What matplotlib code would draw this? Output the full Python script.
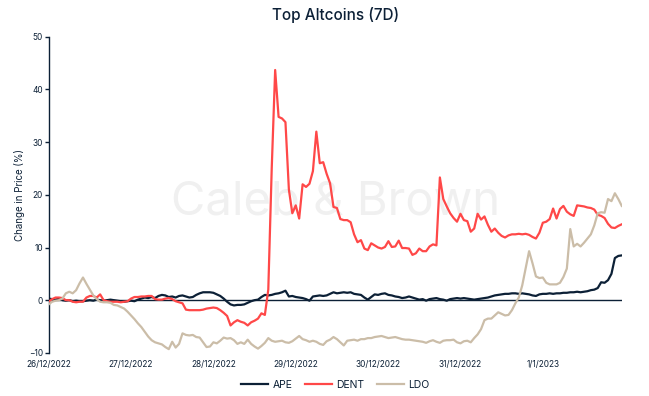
import matplotlib
matplotlib.use("Agg")
import matplotlib.pyplot as plt
import matplotlib.dates as mdates
import pandas as pd

plt.rcParams['font.family'] = ['Inter', 'DejaVu Sans']

# hourly % change, 26/12/2022 00:00 onwards
times = pd.date_range("2022-12-26", periods=168, freq="h")

ape = [
    0.3, 0.2, 0.1, 0.3, 0.0, -0.1, 0.0, -0.2, -0.1, -0.2,
    -0.2, -0.1, 0.0, -0.1, 0.1, 0.0, -0.1, 0.0, 0.1, 0.0,
    -0.1, -0.2, -0.3, -0.2, -0.1, -0.2, 0.1, 0.3, 0.5, 0.4,
    0.6, 0.4, 0.8, 1.0, 0.9, 0.6, 0.7, 0.5, 0.8, 0.9,
    0.7, 0.5, 0.6, 1.0, 1.3, 1.5, 1.5, 1.5, 1.4, 1.1,
    0.8, 0.3, -0.3, -0.8, -1.0, -0.9, -0.9, -0.8, -0.5, -0.2,
    0.0, 0.1, 0.6, 1.0, 0.9, 1.0, 1.2, 1.3, 1.5, 1.8,
    0.7, 0.8, 0.6, 0.5, 0.4, 0.2, -0.1, 0.7, 0.8, 0.9,
    0.8, 0.9, 1.2, 1.5, 1.3, 1.4, 1.5, 1.4, 1.5, 1.2,
    1.1, 1.0, 0.5, 0.1, 0.6, 1.1, 1.0, 1.2, 1.3, 1.0,
    0.9, 0.7, 0.6, 0.4, 0.5, 0.7, 0.5, 0.3, 0.1, 0.2,
    -0.1, 0.2, 0.3, 0.4, 0.2, 0.1, -0.1, 0.2, 0.3, 0.4,
    0.3, 0.4, 0.3, 0.2, 0.1, 0.2, 0.3, 0.4, 0.5, 0.7,
    0.9, 1.0, 1.1, 1.2, 1.2, 1.3, 1.3, 1.2, 1.3, 1.2,
    1.1, 0.9, 0.8, 1.1, 1.2, 1.2, 1.3, 1.2, 1.3, 1.3,
    1.4, 1.4, 1.5, 1.5, 1.6, 1.5, 1.6, 1.7, 1.9, 2.0,
    2.3, 3.4, 3.3, 3.8, 5.0, 8.0, 8.4, 8.5,
]

dent = [
    -0.3, 0.2, 0.5, 0.5, 0.4, 0.0, 0.0, -0.3, -0.4, -0.3,
    -0.3, 0.5, 0.8, 0.8, 0.5, 1.1, 0.0, -0.2, -0.3, -0.3,
    -0.3, -0.4, -0.3, -0.2, 0.3, 0.6, 0.6, 0.7, 0.7, 0.8,
    0.8, 0.2, 0.1, 0.1, 0.3, 0.4, 0.2, -0.2, -0.4, -0.6,
    -1.8, -1.9, -1.9, -1.9, -1.9, -1.8, -1.6, -1.5, -1.4, -1.5,
    -1.9, -2.4, -3.0, -4.8, -4.2, -3.8, -4.1, -4.3, -4.8, -4.2,
    -3.9, -3.5, -2.5, -2.8, 2.0, 25.0, 43.7, 34.8, 34.5, 33.8,
    21.0, 16.5, 18.0, 15.5, 22.0, 21.5, 22.1, 24.5, 32.0, 26.0,
    26.2, 24.0, 22.2, 17.7, 17.5, 15.4, 15.2, 15.2, 14.8, 12.5,
    11.0, 11.4, 9.8, 9.5, 10.8, 10.4, 10.0, 9.8, 10.1, 11.2,
    10.1, 10.2, 11.3, 9.9, 9.9, 9.8, 8.6, 8.9, 9.8, 9.3,
    9.3, 10.2, 10.6, 10.4, 23.3, 19.2, 17.8, 16.5, 15.6, 14.9,
    16.4, 15.2, 15.0, 13.0, 13.6, 16.4, 15.3, 15.9, 14.3, 13.0,
    13.6, 12.8, 12.2, 11.9, 12.3, 12.5, 12.5, 12.6, 12.5, 12.6,
    12.4, 12.0, 11.7, 12.8, 14.7, 14.9, 15.4, 17.4, 15.5, 17.3,
    17.9, 16.8, 16.3, 16.0, 18.0, 17.9, 17.8, 17.6, 17.5, 17.2,
    16.2, 16.0, 15.6, 14.5, 13.8, 13.7, 14.1, 14.4,
]

ldo = [
    -0.8, -0.3, -0.1, 0.0, 0.3, 1.3, 1.6, 1.3, 1.9, 3.2,
    4.3, 3.1, 2.0, 0.9, 0.2, -0.3, -0.4, -0.4, -0.5, -0.9,
    -1.0, -1.3, -1.6, -2.2, -2.9, -3.6, -4.4, -5.1, -6.0, -6.9,
    -7.6, -8.0, -8.2, -8.4, -8.9, -9.3, -7.9, -9.0, -8.3, -6.3,
    -6.6, -6.7, -6.6, -7.0, -7.1, -8.0, -8.9, -8.8, -8.0, -8.2,
    -7.7, -7.1, -7.3, -7.2, -7.6, -8.3, -8.0, -8.3, -7.5, -8.3,
    -8.8, -9.2, -8.7, -8.1, -7.2, -7.7, -7.9, -7.8, -7.7, -8.0,
    -8.1, -7.8, -7.3, -6.8, -7.4, -7.6, -7.9, -7.7, -7.9, -8.3,
    -8.5, -7.8, -7.5, -7.0, -7.4, -8.0, -8.6, -7.7, -7.6, -7.5,
    -7.7, -7.4, -7.4, -7.2, -7.2, -7.0, -6.9, -6.8, -7.0, -7.2,
    -7.1, -7.0, -7.2, -7.4, -7.5, -7.5, -7.6, -7.7, -7.8, -7.9,
    -8.1, -7.8, -7.6, -7.9, -8.1, -7.7, -7.6, -7.6, -7.5, -8.0,
    -8.2, -7.8, -7.7, -8.0, -7.2, -6.5, -5.5, -3.8, -3.5, -3.5,
    -2.9, -2.3, -2.6, -2.9, -2.8, -1.9, -0.6, 0.5, 2.8, 6.0,
    9.3, 7.0, 4.5, 4.2, 4.3, 3.3, 3.0, 3.0, 3.0, 3.3,
    4.4, 6.0, 13.5, 10.2, 10.7, 10.2, 10.9, 11.7, 12.5, 14.2,
    16.5, 16.7, 16.6, 19.2, 18.8, 20.3, 19.2, 17.9,
]

series_names = ["APE", "DENT", "LDO"]
colors = ["#0c2036", "#ff4848", "#cbbda8"]
yticks = [-10, 0, 10, 20, 30, 40, 50]

navy = "#0c2036"

fig = plt.figure(figsize=(6.49, 3.96), dpi=100)
ax = fig.add_axes([0.075, 0.109, 0.883, 0.798])

# watermark
ax.text(0.5, 0.475, "Caleb & Brown", transform=ax.transAxes, ha="center", va="center",
        fontsize=34, color="#f0f0f0", zorder=0)

for name, vals, c in zip(series_names, [ape, dent, ldo], colors):
    ax.plot(times, vals, color=c, lw=1.6, label=name, zorder=3)

ax.axhline(0, color=navy, lw=1.0, zorder=2)

ax.set_xlim(times[0], times[-1])
ax.set_ylim(-10, 50)
ax.set_yticks(yticks)

ax.xaxis.set_major_locator(mdates.DayLocator())
ax.xaxis.set_major_formatter(plt.FuncFormatter(
    lambda v, p: "{d.day}/{d.month}/{d.year}".format(d=mdates.num2date(v))))

for s in ["top", "right", "bottom"]:
    ax.spines[s].set_visible(False)
ax.spines["left"].set_color(navy)
ax.spines["left"].set_linewidth(1.0)

ax.tick_params(axis="y", colors=navy, labelsize=6, length=3, width=1, pad=1)
ax.tick_params(axis="x", colors=navy, labelsize=6, length=0, pad=5)

ax.set_ylabel("Change in Price (%)", fontsize=7, color=navy, labelpad=3)
ax.set_title("Top Altcoins (7D)", fontsize=11, fontweight="medium", color=navy, pad=12)

ax.legend(loc="upper center", bbox_to_anchor=(0.5, -0.055), ncol=3, frameon=False,
          fontsize=7.5, handlelength=2.6, columnspacing=1.2, handletextpad=0.4,
          labelcolor=navy)

fig.savefig("out.png", dpi=100)
